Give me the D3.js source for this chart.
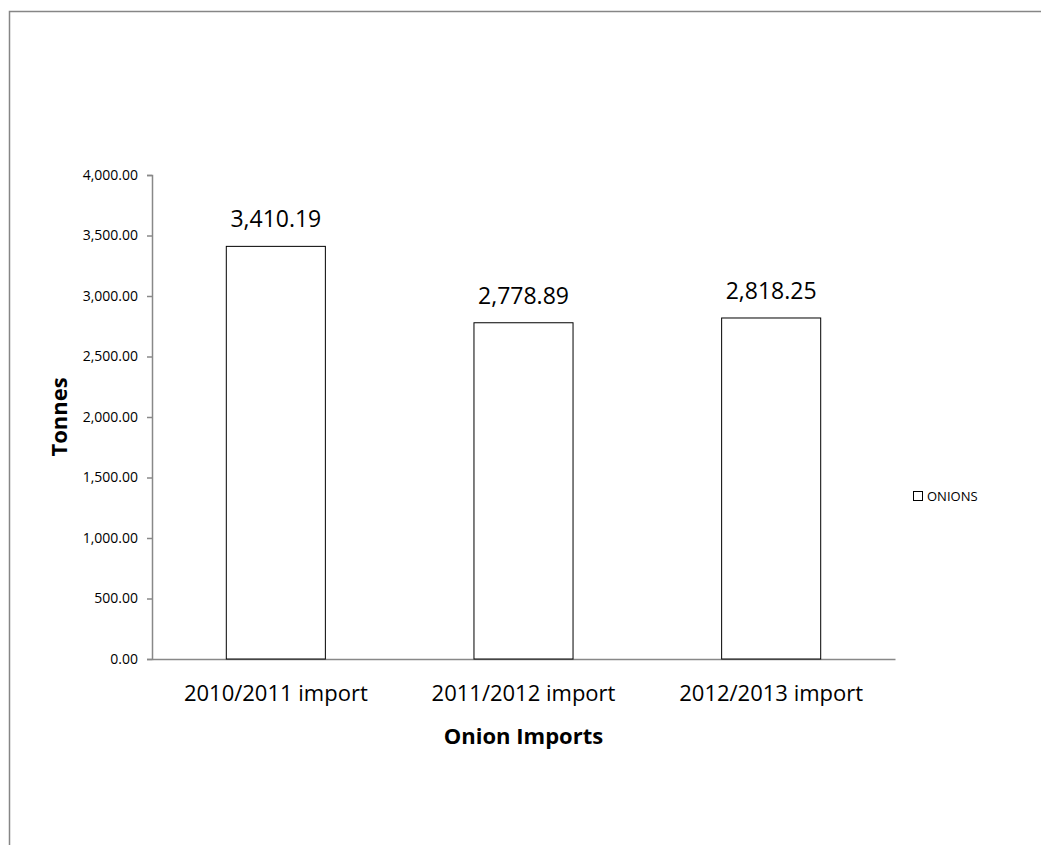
<!DOCTYPE html>
<html>
<head>
<meta charset="utf-8">
<script src="https://cdn.jsdelivr.net/npm/d3@7"></script>
<style>
  html, body { margin: 0; padding: 0; background: #fff; }
  svg { display: block; }
  text { font-family: "Open Sans", Lato, "Liberation Sans", sans-serif; fill: #000; }
</style>
</head>
<body>
<svg id="chart" width="1041" height="845"></svg>
<script>
// Onion import volumes by season (tonnes)
const categories = ["2010/2011 import", "2011/2012 import", "2012/2013 import"];
const values = [3410.19, 2778.89, 2818.25];
const yTicks = [0, 500, 1000, 1500, 2000, 2500, 3000, 3500, 4000];
const seriesName = "ONIONS";

const svg = d3.select("#chart");
const W = 1041, H = 845;
const plot = { left: 152, right: 895, top: 175, bottom: 659 };
const FONT = "'Open Sans', Lato, sans-serif";

// Outer chart frame (top and left edges visible)
svg.append("path")
  .attr("d", `M9.5,${H} V11.5 H${W}`)
  .attr("fill", "none")
  .attr("stroke", "#868686")
  .attr("stroke-width", 1.5);

const x = d3.scaleBand()
  .domain(categories)
  .range([plot.left, plot.right])
  .paddingInner(0.6)
  .paddingOuter(0.3);

const y = d3.scaleLinear()
  .domain([0, 4000])
  .range([plot.bottom, plot.top]);

const fmt = d3.format(",.2f");

// Y axis
const yAxis = svg.append("g")
  .attr("transform", `translate(${plot.left},0)`)
  .call(d3.axisLeft(y).tickValues(yTicks).tickFormat(fmt).tickSize(5).tickPadding(9));
yAxis.select(".domain").attr("stroke", "#888").attr("stroke-width", 1.5);
yAxis.selectAll(".tick line").attr("stroke", "#888").attr("stroke-width", 1.5);
yAxis.selectAll(".tick text")
  .attr("font-size", 14)
  .style("font-family", FONT)
  .attr("fill", "#000");

// X axis
const xAxis = svg.append("g")
  .attr("transform", `translate(0,${plot.bottom})`)
  .call(d3.axisBottom(x).tickSize(0).tickPadding(26));
xAxis.select(".domain").attr("stroke", "#888").attr("stroke-width", 1.5);
xAxis.selectAll(".tick text")
  .attr("font-size", 22)
  .style("font-family", FONT)
  .attr("fill", "#000");

// Bars
svg.append("g").selectAll("rect")
  .data(values)
  .join("rect")
  .attr("x", (d, i) => x(categories[i]))
  .attr("y", d => y(d))
  .attr("width", x.bandwidth())
  .attr("height", d => y(0) - y(d))
  .attr("fill", "#fff")
  .attr("stroke", "#000")
  .attr("stroke-width", 1);

// Value labels
svg.append("g").selectAll("text")
  .data(values)
  .join("text")
  .attr("x", (d, i) => x(categories[i]) + x.bandwidth() / 2)
  .attr("y", d => y(d) - 19)
  .attr("text-anchor", "middle")
  .attr("font-size", 23)
  .text(d => fmt(d));

// Axis titles
svg.append("text")
  .attr("transform", `translate(67,417) rotate(-90)`)
  .attr("text-anchor", "middle")
  .attr("font-size", 22)
  .attr("font-weight", "bold")
  .text("Tonnes");

svg.append("text")
  .attr("x", (plot.left + plot.right) / 2)
  .attr("y", 744)
  .attr("text-anchor", "middle")
  .attr("font-size", 22)
  .attr("font-weight", "bold")
  .text("Onion Imports");

// Legend
const legend = svg.append("g").attr("transform", "translate(913,491)");
legend.append("rect")
  .attr("x", 0.5).attr("y", 0.5)
  .attr("width", 9).attr("height", 9)
  .attr("fill", "#fff").attr("stroke", "#000");
legend.append("text")
  .attr("x", 14).attr("y", 9.5)
  .attr("font-size", 13)
  .text(seriesName);
</script>
</body>
</html>
